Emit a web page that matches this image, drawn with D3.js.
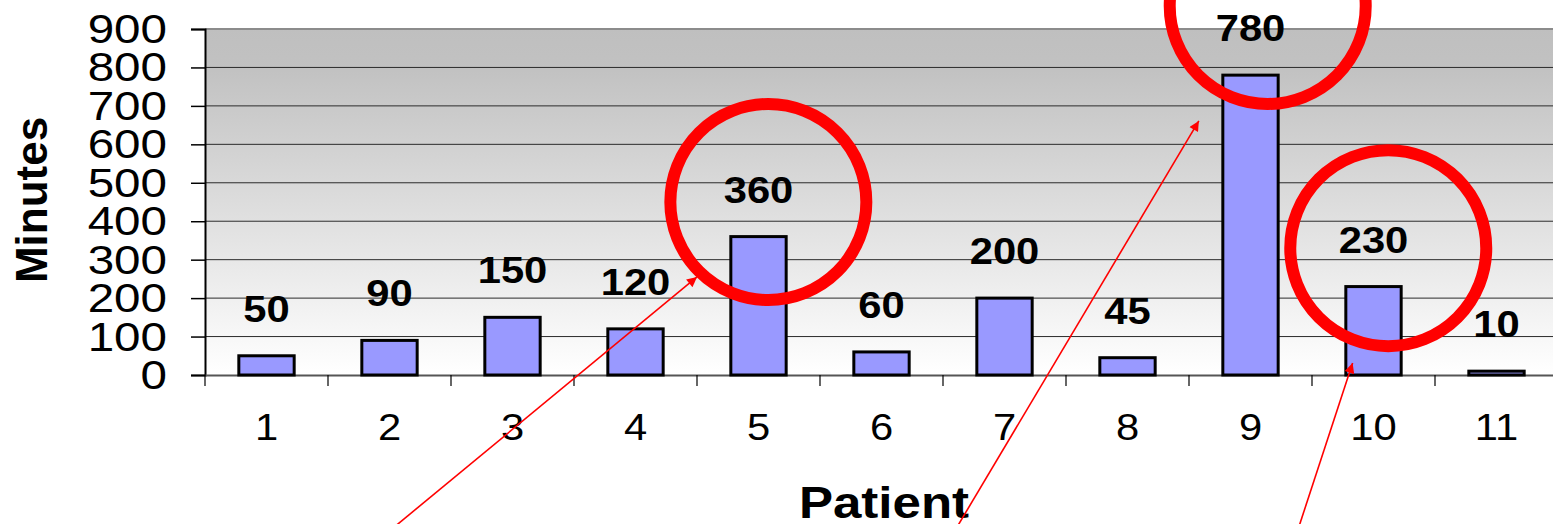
<!DOCTYPE html>
<html>
<head>
<meta charset="utf-8">
<script src="https://cdn.jsdelivr.net/npm/d3@7"></script>
<style>
  html, body { margin: 0; padding: 0; background: #fff; overflow: hidden; }
  svg { display: block; font-family: "Liberation Sans", Arial, sans-serif; }
</style>
</head>
<body>
<svg id="chart" width="1553" height="524"></svg>
<script>
// Minutes per patient
const patients = ["1", "2", "3", "4", "5", "6", "7", "8", "9", "10", "11"];
const minutes = [50, 90, 150, 120, 360, 60, 200, 45, 780, 230, 10];
const yTicks = [0, 100, 200, 300, 400, 500, 600, 700, 800, 900];

// red annotations, placed in chart units (patient position, minutes)
const circleAt = [[5.08, 450], [9.14, 960], [10.12, 330]];
const arrowFrom = [[2.01, -403], [6.60, -403], [9.385, -403]];
const arrowTo = [[4.50, 255], [8.58, 661], [9.83, 31]];

const svg = d3.select("#chart");
const plotLeft = 205, plotRight = 1558, plotTop = 29, plotBottom = 375;
const stretch = 1.16; // text in the original is drawn a bit wide

const x = d3.scaleBand().domain(patients).range([plotLeft, plotRight]).padding(0);
const y = d3.scaleLinear().domain([0, 900]).range([plotBottom, plotTop]);
const xc = d3.scaleLinear().domain([0.5, patients.length + 0.5]).range([plotLeft, plotRight]);

// background gradient
const defs = svg.append("defs");
const grad = defs.append("linearGradient")
    .attr("id", "bg").attr("x1", 0).attr("y1", 0).attr("x2", 0).attr("y2", 1);
grad.append("stop").attr("offset", 0).attr("stop-color", "#bfbfbf");
grad.append("stop").attr("offset", 0.12).attr("stop-color", "#c2c2c2");
grad.append("stop").attr("offset", 1).attr("stop-color", "#ffffff");

defs.append("marker")
    .attr("id", "head")
    .attr("viewBox", "0 0 10 10")
    .attr("refX", 10).attr("refY", 5)
    .attr("markerWidth", 12).attr("markerHeight", 10)
    .attr("markerUnits", "userSpaceOnUse")
    .attr("orient", "auto")
  .append("path")
    .attr("d", "M0,0 L10,5 L0,10 z")
    .attr("fill", "#ff0000");

svg.append("rect")
    .attr("x", plotLeft).attr("y", plotTop)
    .attr("width", plotRight - plotLeft).attr("height", plotBottom - plotTop)
    .attr("fill", "url(#bg)");

// gridlines
svg.append("g")
    .selectAll("line")
    .data(yTicks.slice(1))
    .join("line")
    .attr("x1", plotLeft).attr("x2", plotRight)
    .attr("y1", d => y(d)).attr("y2", d => y(d))
    .attr("stroke", d => d === 900 ? "#8c8c8c" : "#2b2b2b")
    .attr("stroke-width", d => d === 900 ? 2 : 1);

// y axis
const yAxis = svg.append("g")
    .attr("transform", `translate(${plotLeft},0)`)
    .call(d3.axisLeft(y).tickValues(yTicks).tickSize(14).tickFormat(""));
yAxis.select(".domain").attr("stroke", "#000").attr("stroke-width", 2);
yAxis.selectAll(".tick line").attr("stroke", "#000").attr("stroke-width", 1.5);

svg.append("g")
    .selectAll("text")
    .data(yTicks)
    .join("text")
    .attr("transform", d => `translate(167,${y(d) + 14}) scale(${stretch},1)`)
    .attr("text-anchor", "end")
    .attr("font-size", 41)
    .attr("fill", "#000")
    .text(d => d);

// x axis: ticks sit on the category boundaries
const xAxis = svg.append("g")
    .attr("transform", `translate(0,${plotBottom})`)
    .call(d3.axisBottom(x).tickSize(0).tickFormat(""));
xAxis.select(".domain").attr("stroke", "#555").attr("stroke-width", 2);

svg.append("g")
    .selectAll("line")
    .data(patients)
    .join("line")
    .attr("x1", d => x(d)).attr("x2", d => x(d))
    .attr("y1", plotBottom).attr("y2", plotBottom + 11)
    .attr("stroke", "#000").attr("stroke-width", 1.2);

svg.append("g")
    .selectAll("text")
    .data(patients)
    .join("text")
    .attr("transform", d => `translate(${x(d) + x.bandwidth() / 2},440) scale(${stretch},1)`)
    .attr("text-anchor", "middle")
    .attr("font-size", 36)
    .text(d => d);

// bars
const barW = x.bandwidth() * 0.45;
svg.append("g")
    .selectAll("rect")
    .data(minutes)
    .join("rect")
    .attr("x", (d, i) => x(patients[i]) + (x.bandwidth() - barW) / 2)
    .attr("y", d => y(d))
    .attr("width", barW)
    .attr("height", d => plotBottom - y(d))
    .attr("fill", "#9999ff")
    .attr("stroke", "#000")
    .attr("stroke-width", 3);

// value labels
svg.append("g")
    .selectAll("text")
    .data(minutes)
    .join("text")
    .attr("transform", (d, i) => `translate(${x(patients[i]) + x.bandwidth() / 2},${y(d) - 34}) scale(${stretch},1)`)
    .attr("text-anchor", "middle")
    .attr("font-size", 36)
    .attr("font-weight", "bold")
    .text(d => d);

// axis titles
svg.append("text")
    .attr("transform", "translate(47,200) rotate(-90)")
    .attr("text-anchor", "middle")
    .attr("font-size", 44)
    .attr("font-weight", "bold")
    .text("Minutes");

svg.append("text")
    .attr("transform", `translate(884,518) scale(${stretch},1)`)
    .attr("text-anchor", "middle")
    .attr("font-size", 44)
    .attr("font-weight", "bold")
    .text("Patient");

// red circles and arrows
svg.append("g")
    .selectAll("circle")
    .data(circleAt)
    .join("circle")
    .attr("cx", d => xc(d[0]))
    .attr("cy", d => y(d[1]))
    .attr("r", 98)
    .attr("fill", "none")
    .attr("stroke", "#ff0000")
    .attr("stroke-width", 12);

svg.append("g")
    .selectAll("line")
    .data(arrowFrom)
    .join("line")
    .attr("x1", d => xc(d[0])).attr("y1", d => y(d[1]))
    .attr("x2", (d, i) => xc(arrowTo[i][0])).attr("y2", (d, i) => y(arrowTo[i][1]))
    .attr("stroke", "#ff0000")
    .attr("stroke-width", 1.6)
    .attr("marker-end", "url(#head)");
</script>
</body>
</html>
